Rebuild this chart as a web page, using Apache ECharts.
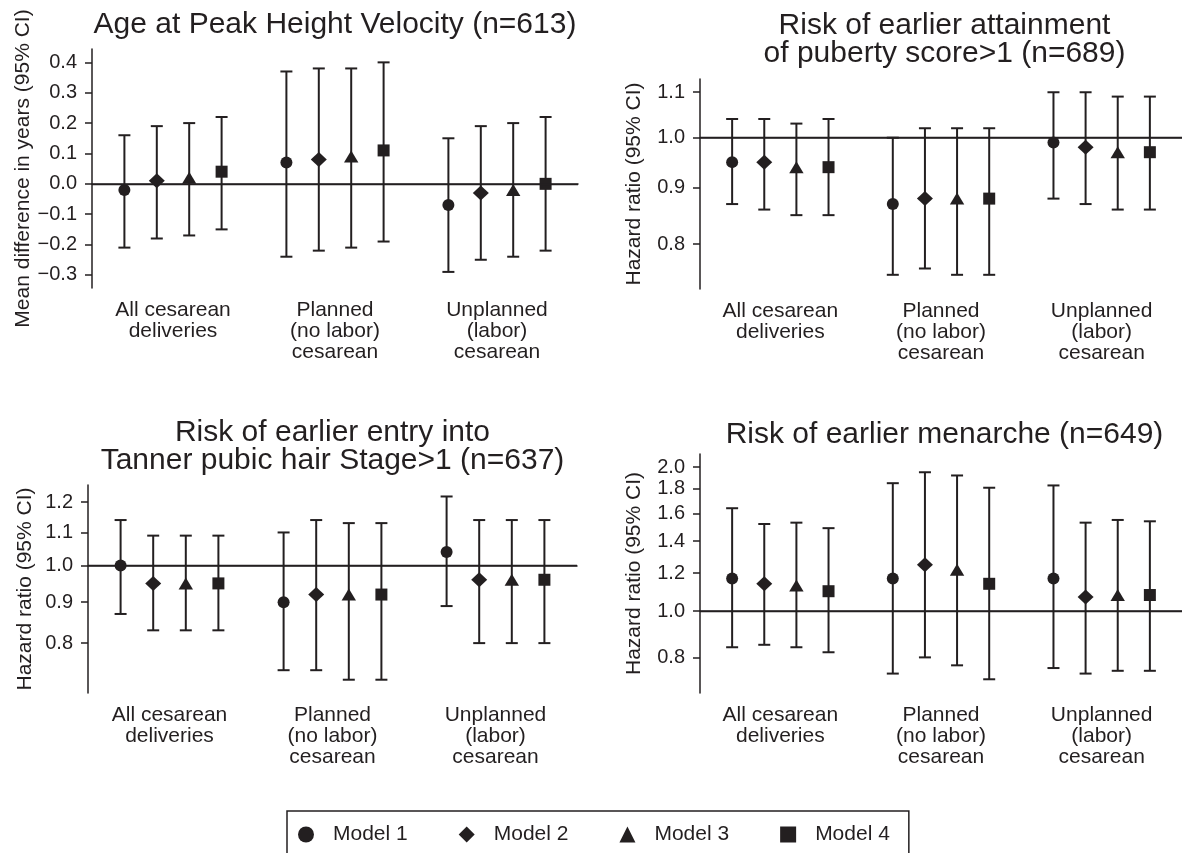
<!DOCTYPE html>
<html>
  <head>
    <meta charset="utf-8" />
    <title>Cesarean delivery and puberty</title>
    <script src="https://cdn.jsdelivr.net/npm/echarts@6/dist/echarts.min.js"></script>
  </head>
  <body style="margin:0;background:#fff;">
    <div id="main" style="width: 1182px;height:853px;"></div>
    <script type="text/javascript">
      var categories = ['All cesarean\ndeliveries', 'Planned\n(no labor)\ncesarean', 'Unplanned\n(labor)\ncesarean'];
      var models = ['Model 1', 'Model 2', 'Model 3', 'Model 4'];
      var icons = ['circle', 'diamond', 'triangle', 'rect'];

      // age at peak height velocity: mean difference in years, rows = models
      var phvEst  = [[-0.02, 0.07, -0.07], [0.01, 0.08, -0.03], [0.02, 0.09, -0.02], [0.04, 0.11, 0.00]];
      var phvLow  = [[-0.21, -0.24, -0.29], [-0.18, -0.22, -0.25], [-0.17, -0.21, -0.24], [-0.15, -0.19, -0.22]];
      var phvHigh = [[0.16, 0.37, 0.15], [0.19, 0.38, 0.19], [0.20, 0.38, 0.20], [0.22, 0.40, 0.22]];
      var phvTicks = [-0.3, -0.2, -0.1, 0, 0.1, 0.2, 0.3, 0.4];

      // puberty score > 1: hazard ratios
      var pubEst  = [[0.95, 0.87, 0.99], [0.95, 0.88, 0.98], [0.94, 0.88, 0.97], [0.94, 0.88, 0.97]];
      var pubLow  = [[0.87, 0.75, 0.88], [0.86, 0.76, 0.87], [0.85, 0.75, 0.86], [0.85, 0.75, 0.86]];
      var pubHigh = [[1.04, 1.00, 1.10], [1.04, 1.02, 1.10], [1.03, 1.02, 1.09], [1.04, 1.02, 1.09]];
      var pubTicks = [0.8, 0.9, 1.0, 1.1];

      // tanner pubic hair stage > 1: hazard ratios
      var hairEst  = [[1.00, 0.90, 1.04], [0.95, 0.92, 0.96], [0.95, 0.92, 0.96], [0.95, 0.92, 0.96]];
      var hairLow  = [[0.87, 0.74, 0.89], [0.83, 0.74, 0.80], [0.83, 0.72, 0.80], [0.83, 0.72, 0.80]];
      var hairHigh = [[1.14, 1.10, 1.22], [1.09, 1.14, 1.14], [1.09, 1.13, 1.14], [1.09, 1.13, 1.14]];
      var hairTicks = [0.8, 0.9, 1.0, 1.1, 1.2];

      // menarche: hazard ratios
      var menEst  = [[1.17, 1.17, 1.17], [1.14, 1.25, 1.07], [1.13, 1.22, 1.08], [1.10, 1.14, 1.08]];
      var menLow  = [[0.84, 0.74, 0.76], [0.85, 0.80, 0.74], [0.84, 0.77, 0.75], [0.82, 0.72, 0.75]];
      var menHigh = [[1.64, 1.85, 1.83], [1.52, 1.95, 1.53], [1.53, 1.92, 1.55], [1.49, 1.81, 1.54]];
      var menTicks = [0.8, 1.0, 1.2, 1.4, 1.6, 1.8, 2.0];

      var ink = '#231f20';
      var font = '"Liberation Sans", Arial, Helvetica, sans-serif';

      var panels = [
        { title: 'Age at Peak Height Velocity (n=613)', yName: 'Mean difference in years (95% CI)',
          est: phvEst, low: phvLow, high: phvHigh, ticks: phvTicks, log: false, range: [-0.343, 0.444],
          grid: { left: 92, top: 49, width: 486, height: 239 }, titleTop: 11, nameGap: 55 },
        { title: 'Risk of earlier attainment\nof puberty score>1 (n=689)', yName: 'Hazard ratio (95% CI)',
          est: pubEst, low: pubLow, high: pubHigh, ticks: pubTicks, log: true, range: [0.728, 1.131],
          grid: { left: 700, top: 79, width: 489, height: 210 }, titleTop: 12, nameGap: 55 },
        { title: 'Risk of earlier entry into\nTanner pubic hair Stage>1 (n=637)', yName: 'Hazard ratio (95% CI)',
          est: hairEst, low: hairLow, high: hairHigh, ticks: hairTicks, log: true, range: [0.693, 1.261],
          grid: { left: 88, top: 485, width: 489, height: 208 }, titleTop: 419, nameGap: 52 },
        { title: 'Risk of earlier menarche (n=649)', yName: 'Hazard ratio (95% CI)',
          est: menEst, low: menLow, high: menHigh, ticks: menTicks, log: true, range: [0.674, 2.129],
          grid: { left: 700, top: 454, width: 489, height: 239 }, titleTop: 421, nameGap: 55 }
      ];

      function tf(log) {
        return log ? function (v) { return Math.log(v); } : function (v) { return v; };
      }

      function marker(m, x, y) {
        var st = { fill: ink };
        if (m === 0) return { type: 'circle', shape: { cx: x, cy: y, r: 6 }, style: st };
        if (m === 1) return { type: 'polygon', shape: { points: [[x, y - 7.5], [x + 8, y], [x, y + 7.5], [x - 8, y]] }, style: st };
        if (m === 2) return { type: 'polygon', shape: { points: [[x, y - 6], [x + 7.2, y + 6], [x - 7.2, y + 6]] }, style: st };
        return { type: 'rect', shape: { x: x - 6, y: y - 6, width: 12, height: 12 }, style: st };
      }

      function makeRender(m) {
        return function (params, api) {
          var cat = api.value(0);
          var band = api.size([1, 0])[0];
          var dx = (m - 1.5) * 0.2 * band;
          var pt = api.coord([cat, api.value(1)]);
          var lo = api.coord([cat, api.value(2)]);
          var hi = api.coord([cat, api.value(3)]);
          var x = pt[0] + dx;
          var cap = 6;
          var ls = { stroke: ink, lineWidth: 2 };
          return {
            type: 'group',
            children: [
              { type: 'line', shape: { x1: x, y1: lo[1], x2: x, y2: hi[1] }, style: ls },
              { type: 'line', shape: { x1: x - cap, y1: lo[1], x2: x + cap, y2: lo[1] }, style: ls },
              { type: 'line', shape: { x1: x - cap, y1: hi[1], x2: x + cap, y2: hi[1] }, style: ls },
              marker(m, x, pt[1])
            ]
          };
        };
      }

      var grids = [], xAxes = [], yAxes = [], titles = [], series = [];

      panels.forEach(function (p, pi) {
        var t = tf(p.log);
        var cx = p.grid.left + p.grid.width / 2;
        grids.push(p.grid);
        titles.push({
          text: p.title, left: cx, top: p.titleTop, textAlign: 'center', padding: 0,
          textStyle: { fontSize: 30, fontWeight: 'normal', color: ink, lineHeight: 28, fontFamily: font }
        });
        xAxes.push({
          gridIndex: pi, type: 'category', data: categories, boundaryGap: true,
          axisLine: { lineStyle: { color: ink, width: 1.5 } },
          axisTick: { alignWithLabel: true, interval: 0, length: 8, lineStyle: { color: ink, width: 1.5 } },
          axisLabel: { interval: 0, fontSize: 21, lineHeight: 21, color: ink, margin: 12, fontFamily: font },
          splitLine: { show: false }
        });
        var tickVals = p.ticks.map(t);
        yAxes.push({
          gridIndex: pi, type: 'value', min: t(p.range[0]), max: t(p.range[1]),
          name: p.yName, nameLocation: 'middle', nameGap: p.nameGap,
          nameTextStyle: { fontSize: 21, color: ink, fontFamily: font },
          axisLine: { show: true, lineStyle: { color: ink, width: 1.5 } },
          axisTick: { show: true, length: 7, customValues: tickVals, lineStyle: { color: ink, width: 1.5 } },
          axisLabel: {
            customValues: tickVals, fontSize: 20, color: ink, margin: 15, fontFamily: font,
            formatter: p.log
              ? function (v) { return Math.exp(v).toFixed(1); }
              : function (v) { return (v < -1e-9 ? '\u2212' : '') + Math.abs(v).toFixed(1); }
          },
          splitLine: { show: false }
        });
        models.forEach(function (name, m) {
          var s = {
            type: 'custom', name: name, xAxisIndex: pi, yAxisIndex: pi,
            itemStyle: { color: ink },
            renderItem: makeRender(m),
            encode: { x: 0, y: [1, 2, 3] },
            data: categories.map(function (c, i) {
              return [i, t(p.est[m][i]), t(p.low[m][i]), t(p.high[m][i])];
            }),
            z: 3
          };
          if (m === 0) {
            s.markLine = {
              silent: true, symbol: 'none', label: { show: false },
              lineStyle: { color: ink, width: 1.4, type: 'solid' },
              data: [{ yAxis: 0 }]
            };
          }
          series.push(s);
        });
      });

      var myChart = echarts.init(document.getElementById('main'));
      var option = {
        backgroundColor: '#fff',
        animation: false,
        textStyle: { fontFamily: font, color: ink },
        title: titles,
        grid: grids,
        xAxis: xAxes,
        yAxis: yAxes,
        legend: {
          data: models.map(function (n, i) { return { name: n, icon: icons[i] }; }),
          left: 287, top: 811, orient: 'horizontal',
          itemWidth: 16, itemHeight: 16, itemGap: 51,
          padding: [13, 19, 20, 11],
          borderColor: ink, borderWidth: 1.5,
          selectedMode: false,
          textStyle: { fontSize: 21, color: ink, fontFamily: font, padding: [0, 0, 0, 14] }
        },
        series: series
      };
      myChart.setOption(option);
    </script>
  </body>
</html>
